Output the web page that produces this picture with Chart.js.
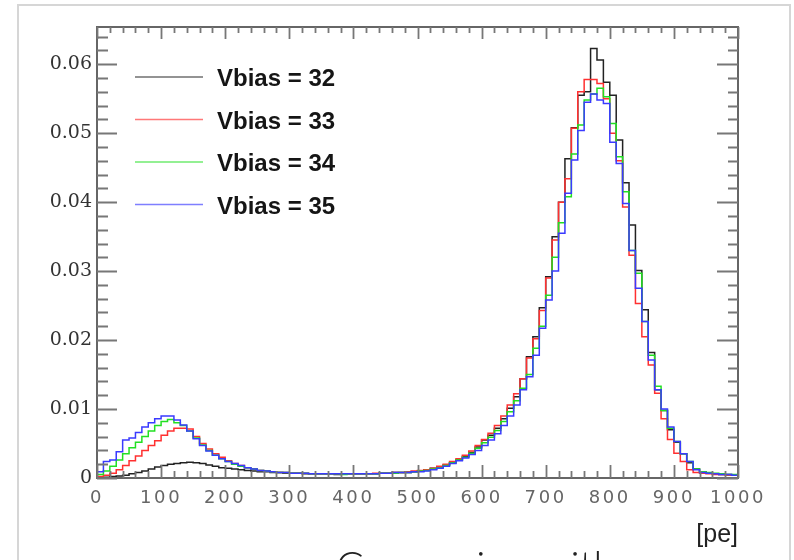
<!DOCTYPE html>
<html>
<head>
<meta charset="utf-8">
<script src="https://cdn.jsdelivr.net/npm/chart.js@4.4.1/dist/chart.umd.min.js"></script>
<style>
  html, body { margin: 0; padding: 0; background: #fff; width: 794px; height: 560px; overflow: hidden; }
  #frame { position: absolute; left: 17px; top: 4px; width: 774px; height: 600px; border: 2px solid #d6d6d6; box-sizing: border-box; }
  #chart { position: absolute; left: 0; top: 0; }
  #caption { position: absolute; left: 336px; top: 545px; font: 300 41px "Lato", sans-serif; color: #222; white-space: nowrap; line-height: 41px; }
</style>
</head>
<body>
<div id="frame"></div>
<canvas id="chart" width="794" height="560"></canvas>
<div id="caption">Comparing with</div>
<script>
// histogram: 100 bins of 10 pe from 0 to 1000
var binWidth = 10;
var xMin = 0, xMax = 1000, xStep = 100;
var yMin = 0, yMax = 0.0654, yStep = 0.01;

var labels = ["Vbias = 32", "Vbias = 33", "Vbias = 34", "Vbias = 35"];
var colors = ["#222222", "#ff3030", "#22e022", "#3a3aff"];

var vbias32 = [
  0.0001,0.0001,0.0002,0.0003,0.0004,0.0006,0.0008,0.0010,0.0013,0.0016,
  0.0018,0.0020,0.0021,0.0022,0.0023,0.0022,0.0021,0.0019,0.0017,0.0015,
  0.0014,0.0013,0.0012,0.0011,0.0010,0.0009,0.0009,0.0008,0.0008,0.0007,
  0.0007,0.0007,0.0006,0.0006,0.0006,0.0006,0.0006,0.0005,0.0006,0.0006,
  0.0006,0.0006,0.0006,0.0006,0.0007,0.0007,0.0008,0.0008,0.0008,0.0009,
  0.0010,0.0012,0.0014,0.0016,0.0019,0.0022,0.0026,0.0031,0.0037,0.0045,
  0.0055,0.0062,0.0072,0.0086,0.0101,0.0118,0.0144,0.0176,0.0205,0.0247,
  0.0292,0.0350,0.0400,0.0463,0.0508,0.0555,0.0560,0.0623,0.0606,0.0574,
  0.0555,0.0490,0.0428,0.0367,0.0301,0.0244,0.0182,0.0128,0.0098,0.0070,
  0.0052,0.0035,0.0022,0.0013,0.0009,0.0007,0.0006,0.0005,0.0005,0.0004
];
var vbias33 = [
  0.0002,0.0004,0.0007,0.0012,0.0018,0.0025,0.0032,0.0040,0.0047,0.0054,
  0.0062,0.0068,0.0072,0.0072,0.0071,0.0060,0.0050,0.0042,0.0035,0.0030,
  0.0025,0.0021,0.0018,0.0015,0.0013,0.0011,0.0010,0.0009,0.0008,0.0008,
  0.0007,0.0007,0.0007,0.0006,0.0006,0.0006,0.0006,0.0006,0.0006,0.0006,
  0.0006,0.0006,0.0006,0.0007,0.0007,0.0007,0.0008,0.0008,0.0009,0.0010,
  0.0011,0.0012,0.0014,0.0017,0.0020,0.0024,0.0028,0.0033,0.0039,0.0047,
  0.0056,0.0065,0.0076,0.0090,0.0106,0.0122,0.0144,0.0174,0.0202,0.0243,
  0.0290,0.0345,0.0400,0.0434,0.0507,0.0560,0.0578,0.0578,0.0572,0.0550,
  0.0500,0.0460,0.0393,0.0323,0.0253,0.0205,0.0164,0.0123,0.0086,0.0056,
  0.0036,0.0024,0.0012,0.0008,0.0007,0.0006,0.0005,0.0005,0.0004,0.0004
];
var vbias34 = [
  0.0005,0.0010,0.0017,0.0026,0.0035,0.0044,0.0052,0.0060,0.0068,0.0076,
  0.0082,0.0085,0.0080,0.0076,0.0068,0.0058,0.0048,0.0040,0.0033,0.0028,
  0.0024,0.0020,0.0017,0.0015,0.0013,0.0011,0.0010,0.0009,0.0008,0.0008,
  0.0007,0.0007,0.0007,0.0006,0.0006,0.0006,0.0006,0.0006,0.0005,0.0006,
  0.0006,0.0006,0.0006,0.0006,0.0007,0.0007,0.0007,0.0008,0.0008,0.0009,
  0.0010,0.0011,0.0013,0.0015,0.0018,0.0022,0.0026,0.0030,0.0036,0.0043,
  0.0051,0.0059,0.0069,0.0082,0.0096,0.0112,0.0130,0.0150,0.0188,0.0220,
  0.0265,0.0320,0.0370,0.0408,0.0470,0.0512,0.0548,0.0557,0.0565,0.0553,
  0.0514,0.0466,0.0415,0.0330,0.0297,0.0227,0.0178,0.0133,0.0098,0.0072,
  0.0053,0.0035,0.0024,0.0013,0.0009,0.0008,0.0007,0.0006,0.0005,0.0005
];
var vbias35 = [
  0.0009,0.0024,0.0026,0.0038,0.0055,0.0058,0.0066,0.0074,0.0080,0.0086,
  0.0090,0.0090,0.0084,0.0077,0.0068,0.0057,0.0047,0.0039,0.0033,0.0028,
  0.0024,0.0021,0.0018,0.0015,0.0013,0.0011,0.0010,0.0009,0.0008,0.0008,
  0.0007,0.0007,0.0007,0.0006,0.0006,0.0006,0.0006,0.0006,0.0006,0.0006,
  0.0006,0.0006,0.0006,0.0006,0.0007,0.0007,0.0008,0.0008,0.0008,0.0009,
  0.0009,0.0010,0.0012,0.0014,0.0017,0.0021,0.0025,0.0029,0.0034,0.0040,
  0.0047,0.0055,0.0064,0.0076,0.0090,0.0106,0.0128,0.0147,0.0178,0.0217,
  0.0258,0.0300,0.0355,0.0413,0.0461,0.0504,0.0545,0.0557,0.0548,0.0543,
  0.0487,0.0456,0.0398,0.0330,0.0275,0.0227,0.0171,0.0128,0.0100,0.0074,
  0.0053,0.0035,0.0024,0.0012,0.0008,0.0007,0.0006,0.0005,0.0005,0.0004
];

var series = [vbias32, vbias33, vbias34, vbias35];

// turn bin contents into step points at bin low edges, plus the last upper edge
function histPoints(values) {
  var pts = values.map(function(v, i) { return { x: i * binWidth, y: v }; });
  pts.push({ x: values.length * binWidth, y: values[values.length - 1] });
  return pts;
}

// ROOT style ticks drawn inwards on all four sides
var rootTicks = {
  id: 'rootTicks',
  afterDatasetsDraw: function(chart) {
    var ctx = chart.ctx, a = chart.chartArea;
    var sx = chart.scales.x, sy = chart.scales.y;
    ctx.save();
    ctx.strokeStyle = '#666';
    ctx.lineWidth = 2;
    ctx.strokeRect(a.left, a.top, a.right - a.left, a.bottom - a.top);
    ctx.strokeStyle = '#777';
    ctx.lineWidth = 1.8;
    ctx.beginPath();
    for (var v = xMin; v <= xMax + 0.001; v += 20) {
      var px = Math.round(sx.getPixelForValue(v)) + 0.5;
      var major = Math.abs(v % 100) < 0.001;
      ctx.moveTo(px, a.bottom); ctx.lineTo(px, a.bottom - (major ? 13 : 7));
      ctx.moveTo(px, a.top); ctx.lineTo(px, a.top + (major ? 12 : 6));
    }
    for (var k = 0; k * 0.002 <= yMax; k++) {
      var py = Math.round(sy.getPixelForValue(k * 0.002)) + 0.5;
      var maj = k % 5 === 0;
      ctx.moveTo(a.left, py); ctx.lineTo(a.left + (maj ? 20 : 11), py);
      ctx.moveTo(a.right, py); ctx.lineTo(a.right - (maj ? 21 : 10), py);
    }
    ctx.stroke();
    ctx.restore();
  }
};

var insideLegend = {
  id: 'insideLegend',
  afterDraw: function(chart) {
    var ctx = chart.ctx;
    ctx.save();
    chart.data.datasets.forEach(function(ds, i) {
      var y = 77 + i * 42.5;
      ctx.globalAlpha = 0.65;
      ctx.strokeStyle = ds.borderColor;
      ctx.lineWidth = 1.3;
      ctx.beginPath();
      ctx.moveTo(135, y); ctx.lineTo(203, y);
      ctx.stroke();
      ctx.globalAlpha = 1;
      ctx.fillStyle = '#151515';
      ctx.font = 'bold 24px "Liberation Sans", Arial, sans-serif';
      ctx.textBaseline = 'alphabetic';
      ctx.fillText(ds.label, 217, y + 9);
    });
    ctx.restore();
  }
};

// wider tracking on the x tick labels
var spacedLabels = {
  id: 'spacedLabels',
  beforeDraw: function(chart) {
    var sc = chart.scales.x;
    if (sc._spaced) return;
    var orig = sc.drawLabels;
    sc.drawLabels = function(area) {
      chart.ctx.save();
      chart.ctx.letterSpacing = '2.6px';
      orig.call(this, area);
      chart.ctx.restore();
    };
    sc._spaced = true;
  }
};

var ctx = document.getElementById('chart').getContext('2d');
new Chart(ctx, {
  type: 'line',
  data: {
    datasets: series.map(function(vals, i) {
      return {
        label: labels[i],
        data: histPoints(vals),
        borderColor: colors[i],
        borderWidth: 1.5,
        pointRadius: 0,
        stepped: true,
        fill: false,
        order: 3 - i
      };
    })
  },
  options: {
    responsive: false,
    animation: false,
    layout: { padding: { left: 0, top: 27, right: 56, bottom: 0 } },
    plugins: { legend: { display: false }, tooltip: { enabled: false } },
    scales: {
      x: {
        type: 'linear',
        min: xMin,
        max: xMax,
        grid: { display: false, drawTicks: false },
        border: { display: true, color: '#666', width: 2 },
        ticks: {
          stepSize: xStep,
          autoSkip: false,
          maxRotation: 0,
          padding: 10,
          color: '#666',
          font: { family: 'DejaVu Sans', size: 18 },
          callback: function(v) { return String(v); }
        },
        title: {
          display: true,
          text: '[pe]',
          align: 'end',
          color: '#222',
          font: { family: 'Liberation Sans', size: 25 },
          padding: { top: 0, bottom: 10 }
        },
        afterFit: function(s) { s.height = 82; }
      },
      y: {
        min: yMin,
        max: yMax,
        grid: { display: false, drawTicks: false },
        border: { display: true, color: '#666', width: 2 },
        ticks: {
          stepSize: yStep,
          padding: 5,
          color: '#333',
          font: { family: 'DejaVu Serif', size: 19 },
          callback: function(v) {
            var n = v / yStep;
            if (Math.abs(n - Math.round(n)) > 1e-6) return '';
            return v === 0 ? '0' : v.toFixed(2);
          }
        },
        afterFit: function(s) { s.width = 97; }
      }
    }
  },
  plugins: [rootTicks, insideLegend, spacedLabels]
});
</script>
</body>
</html>
